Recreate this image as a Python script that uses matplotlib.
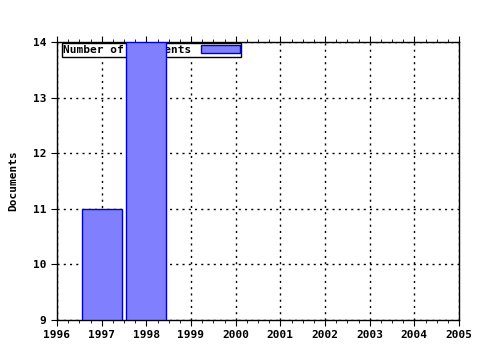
import matplotlib
matplotlib.use("Agg")
import matplotlib.pyplot as plt
from matplotlib.ticker import MultipleLocator

anios = [1997, 1998]
documentos = [11, 14]
ticks_x = list(range(1996, 2006))

plt.rcParams['font.family'] = 'DejaVu Sans Mono'
plt.rcParams['font.weight'] = 'bold'
plt.rcParams['font.size'] = 8

fig = plt.figure(figsize=(4.8, 3.5), dpi=100)
ax = fig.add_axes([57/480, 30/350, 402/480, 278/350])

ax.bar(anios, [d - 9 for d in documentos], bottom=9, width=0.9,
       color='#8080ff', edgecolor='#0000cc', linewidth=1, zorder=3,
       label='Number of Documents')

ax.set_xlim(1996, 2005)
ax.set_ylim(9, 14)
ax.set_xticks(ticks_x)
ax.set_xticklabels([str(t) for t in ticks_x])
ax.xaxis.set_minor_locator(MultipleLocator(0.25))
ax.set_yticks(range(9, 15))
ax.grid(True, which='major', color='black', linestyle=(0, (1.5, 3)), linewidth=1)
ax.set_axisbelow(True)

ax.tick_params(axis='x', which='both', top=True, bottom=True, direction='out')
ax.tick_params(axis='x', which='major', length=4)
ax.tick_params(axis='x', which='minor', length=2)
ax.tick_params(axis='y', length=4, direction='out')
ax.tick_params(labelsize=8)
for s in ax.spines.values():
    s.set_linewidth(1)

ax.set_ylabel('Documents', fontsize=8, fontweight='bold', labelpad=11)

leg = ax.legend(loc='upper left', bbox_to_anchor=(0.012, 0.995), fancybox=False,
                edgecolor='black', framealpha=1, borderpad=0.15,
                handlelength=3.5, handleheight=0.7, handletextpad=0.8,
                borderaxespad=0, fontsize=8, markerfirst=False)
leg.get_frame().set_linewidth(1)
leg.set_zorder(2)

fig.savefig('out.png', dpi=100)
